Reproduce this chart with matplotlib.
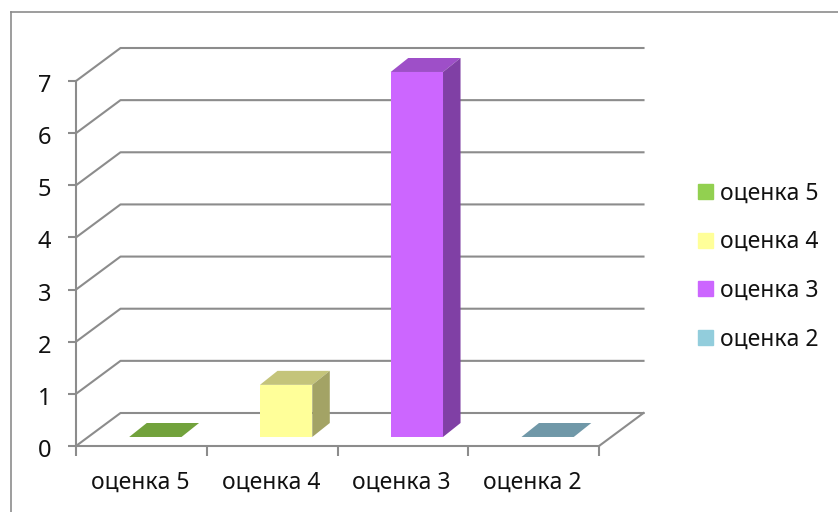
import matplotlib
matplotlib.use('Agg')
import matplotlib.pyplot as plt
from matplotlib.lines import Line2D
from matplotlib.patches import Patch
from matplotlib.transforms import ScaledTranslation

categories = ['оценка 5', 'оценка 4', 'оценка 3', 'оценка 2']
values = [0, 1, 7, 0]
front_colors = ['#92D050', '#FFFF99', '#CC66FF', '#92CDDC']
top_colors = ['#72A23C', '#C4C47A', '#9E4FC8', '#7098A8']
side_colors = ['#5F8A32', '#A3A365', '#8040A5', '#5F8796']
y_ticks = [0, 1, 2, 3, 4, 5, 6, 7]

W, H = 838, 512
GREY = '#8C8C8C'
INK = '#111111'

plt.rcParams['font.family'] = ['Noto Sans', 'DejaVu Sans']

fig = plt.figure(figsize=(W / 100, H / 100), dpi=100)
# axes box is the front plane of the fake 3d chart
ax = fig.add_axes([76 / W, 1 - 446 / H, (599 - 76) / W, (446 - 81) / H])
ax.set_xlim(0, 4)
ax.set_ylim(0, 7)
ax.patch.set_visible(False)

# depth of the walls and of the bars, in data units
wall_dx = 44.5 / 130.75
wall_dy = 33 / 52.14
bar_w = 0.4
bar_shift = 0.107
floor_y = 0.173
bar_dx = 0.134
bar_dy = 0.268

# gridlines on the side and back walls
for v in y_ticks:
    ax.plot([0, wall_dx, 4 + wall_dx], [v, v + wall_dy, v + wall_dy],
            color=GREY, lw=1.5, clip_on=False, zorder=1)
ax.plot([4, 4 + wall_dx], [0, wall_dy], color=GREY, lw=1.5, clip_on=False, zorder=1)

# bars
for i, v in enumerate(values):
    left = i + 0.5 - bar_w / 2 + bar_shift
    right = left + bar_w
    top = floor_y + v
    ax.bar(left, v, width=bar_w, bottom=floor_y, align='edge',
           color=front_colors[i], clip_on=False, zorder=3)
    ax.fill([left, right, right + bar_dx, left + bar_dx],
            [top, top, top + bar_dy, top + bar_dy],
            color=top_colors[i], lw=0, clip_on=False, zorder=3)
    ax.fill([right, right + bar_dx, right + bar_dx, right],
            [floor_y, floor_y + bar_dy, top + bar_dy, top],
            color=side_colors[i], lw=0, clip_on=False, zorder=3)

for s in ['top', 'right']:
    ax.spines[s].set_visible(False)
for s in ['left', 'bottom']:
    ax.spines[s].set_color(GREY)
    ax.spines[s].set_linewidth(1.5)

ax.set_yticks(y_ticks)
ax.tick_params(axis='y', length=6, width=1.5, color=GREY, labelsize=17, pad=12, labelcolor=INK)
# value labels sit a little below their ticks in the original
for lab in ax.get_yticklabels():
    lab.set_transform(lab.get_transform() + ScaledTranslation(0, -2 / 100, fig.dpi_scale_trans))
ax.set_xticks([0, 1, 2, 3, 4])
ax.set_xticklabels([])
ax.tick_params(axis='x', which='major', length=7, width=1.5, color=GREY)
ax.set_xticks([0.488, 1.49, 2.49, 3.49], minor=True)
ax.set_xticklabels(categories, minor=True)
ax.tick_params(axis='x', which='minor', length=0, labelsize=16.5, pad=18, labelcolor=INK)

handles = [Patch(color=c) for c in front_colors]
ax.legend(handles, categories, loc='center left', bbox_to_anchor=(698 / W, 1 - 266.5 / H),
          bbox_transform=fig.transFigure, frameon=False, fontsize=16.5,
          handlelength=0.655, handleheight=0.655, handletextpad=0.3,
          labelspacing=1.07, borderaxespad=0, borderpad=0, labelcolor=INK)

# outer chart frame
fig.add_artist(Line2D([10.5 / W, 10.5 / W], [0, 1 - 11.5 / H], color=GREY, lw=1.2))
fig.add_artist(Line2D([10.5 / W, 1], [1 - 11.5 / H, 1 - 11.5 / H], color=GREY, lw=1.2))

fig.savefig('out.png', dpi=100)
